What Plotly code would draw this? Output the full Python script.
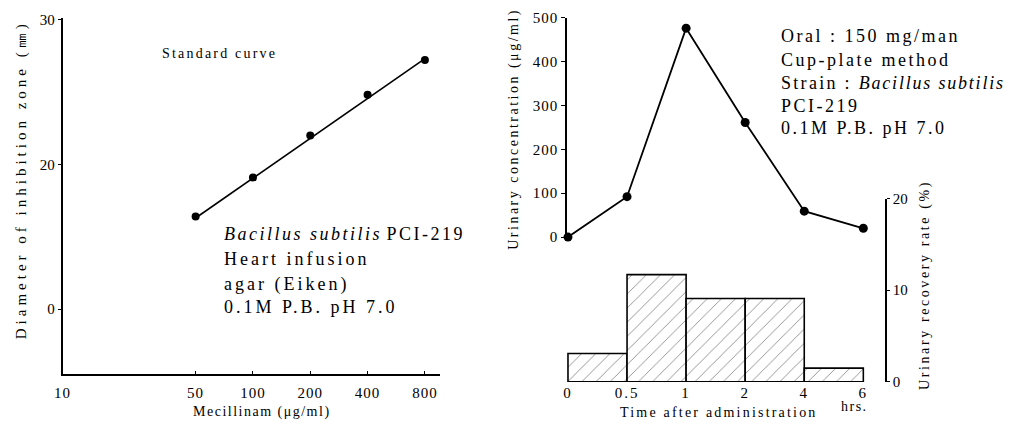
import plotly.graph_objects as go

# The page body keeps an 8px margin, so the figure is sized to fill the window exactly.
WIN_W, WIN_H = 1027, 442
OFF = 8
W, H = WIN_W - 2 * OFF, WIN_H - 2 * OFF
FONT = "Liberation Serif"

# ---------------- data ----------------
# Left panel: standard curve
conc = [50, 100, 200, 400, 800]              # Mecillinam (ug/ml)
diameter = [16.4, 19.1, 22.0, 24.8, 27.2]     # inhibition zone (mm)
fit_conc = [50, 800]
fit_diam = [16.3, 27.3]
left_xticks = [10, 50, 100, 200, 400, 800]
left_yticks = [10, 20, 30]
left_yticktext = ["0", "20", "30"]

# Right panel: urinary concentration / recovery
time_labels = ["0", "0.5", "1", "2", "4", "6"]
urine_conc = [0, 92, 476, 261, 59, 20]        # ug/ml
recovery = [3.1, 11.7, 9.1, 9.1, 1.5]         # % per interval
conc_ticks = [0, 100, 200, 300, 400, 500]
recovery_ticks = [0, 10, 20]


def px(x):
    return (x - OFF) / W


def py(y):
    return 1 - (y - OFF) / H


def sp(text, ls):
    return f'<span style="letter-spacing:{ls}px">{text}</span>'


time_idx = list(range(len(time_labels)))
bar_mid = [i + 0.5 for i in range(len(recovery))]

fig = go.Figure()

# left panel
fig.add_trace(go.Scatter(x=fit_conc, y=fit_diam, mode="lines",
                         line=dict(color="black", width=1.6),
                         xaxis="x", yaxis="y", showlegend=False, hoverinfo="skip"))
fig.add_trace(go.Scatter(x=conc, y=diameter, mode="markers",
                         marker=dict(color="black", size=8),
                         xaxis="x", yaxis="y", showlegend=False, cliponaxis=False))

# right bottom: recovery histogram
fig.add_trace(go.Bar(x=bar_mid, y=recovery, width=1,
                     marker=dict(color="white",
                                 line=dict(color="black", width=1.6),
                                 pattern=dict(shape="/", fgcolor="black", bgcolor="white",
                                              size=10, solidity=0.08)),
                     xaxis="x3", yaxis="y3", showlegend=False))

# right top: concentration
fig.add_trace(go.Scatter(x=time_idx, y=urine_conc, mode="lines+markers",
                         line=dict(color="black", width=1.8),
                         marker=dict(color="black", size=9),
                         xaxis="x2", yaxis="y2", showlegend=False, cliponaxis=False))

tickfont = dict(family=FONT, size=15, color="black")
axcommon = dict(showgrid=False, zeroline=False, color="black", linecolor="black",
                tickcolor="black", tickfont=tickfont)

x_lo, x_hi = 571, 884
idx_range = [-(1 / 59.6), (x_hi - 572) / 59.6]

fig.update_layout(
    width=W, height=H,
    margin=dict(l=0, r=0, t=0, b=0),
    paper_bgcolor="white", plot_bgcolor="rgba(0,0,0,0)",
    font=dict(family=FONT, color="black"),
    xaxis=dict(domain=[px(62), px(443)], type="log", range=[1, 2.983],
               anchor="y", showline=True, linewidth=1.5, ticks="inside", ticklen=3,
               ticklabelstandoff=5,
               tickvals=left_xticks, ticktext=[sp(str(v), 1) for v in left_xticks],
               **axcommon),
    yaxis=dict(domain=[py(388), py(18)], range=[5.548, 30.133], anchor="x",
               showline=True, linewidth=1.5, ticks="outside", ticklen=3,
               tickvals=left_yticks, ticktext=left_yticktext, **axcommon),
    xaxis2=dict(domain=[px(x_lo), px(x_hi)], range=idx_range, anchor="y2",
                showline=False, showticklabels=False, ticks="", **axcommon),
    yaxis2=dict(domain=[py(246), py(18)], range=[0, 500], anchor="x2",
                showline=True, linewidth=1.5, ticks="outside", ticklen=4,
                tickvals=conc_ticks, ticktext=[sp(str(v), 1) for v in conc_ticks],
                **axcommon),
    xaxis3=dict(domain=[px(x_lo), px(x_hi)], range=idx_range, anchor="y3",
                showline=False, ticks="", tickvals=time_idx,
                ticktext=[sp(t, 2) for t in time_labels], **axcommon),
    yaxis3=dict(domain=[py(396.5), py(206)], range=[0, 20], anchor="free",
                position=px(893), side="right", showline=True, linewidth=1.5,
                ticks="outside", ticklen=3, tickvals=recovery_ticks, **axcommon),
)

ann = []


def add_text(text, x, y, size, xanchor="left", angle=0, yanchor="middle"):
    ann.append(dict(text=text, x=px(x), y=py(y), xref="paper", yref="paper",
                    xanchor=xanchor, yanchor=yanchor, showarrow=False,
                    textangle=angle, font=dict(family=FONT, size=size, color="black")))


# left panel texts
add_text(sp("Standard curve", 2.2), 160, 55, 14)
left_lines = [
    "<i>" + sp("Bacillus subtilis", 2.5) + "</i> " + sp("PCI-219", 2.5),
    sp("Heart infusion", 3),
    sp("agar (Eiken)", 3),
    sp("0.1M P.B. pH 7.0", 3),
]
for i, t in enumerate(left_lines):
    add_text(t, 223, [243, 269, 295, 319][i], 18)
add_text(sp("Mecillinam (μg/ml)", 1.5), 263, 428, 14, xanchor="center")
add_text(sp("Diameter of inhibition zone (㎜)", 4), 20, 186, 15, xanchor="center", angle=-90)

# right panel texts
right_lines = [
    sp("Oral : 150 mg/man", 2.5),
    sp("Cup-plate method", 2.5),
    sp("Strain : ", 2.3) + "<i>" + sp("Bacillus subtilis", 1.8) + "</i>",
    sp("PCI-219", 2.5),
    sp("0.1M P.B. pH 7.0", 2.5),
]
for i, t in enumerate(right_lines):
    add_text(t, 785, [37, 62, 86, 110, 133][i], 18)
add_text(sp("Urinary concentration (μg/ml)", 2.5), 518, 133, 14, xanchor="center", angle=-90)
add_text(sp("Urinary recovery rate (%)", 2.6), 932, 296, 14, xanchor="center", angle=-90)
add_text(sp("Time after administration", 2.2), 724, 428, 14, xanchor="center")
add_text(sp("hrs.", 1.5), 861, 422, 14, xanchor="center")

fig.update_layout(annotations=ann)

fig.write_html("out.html", config={"displayModeBar": False})
